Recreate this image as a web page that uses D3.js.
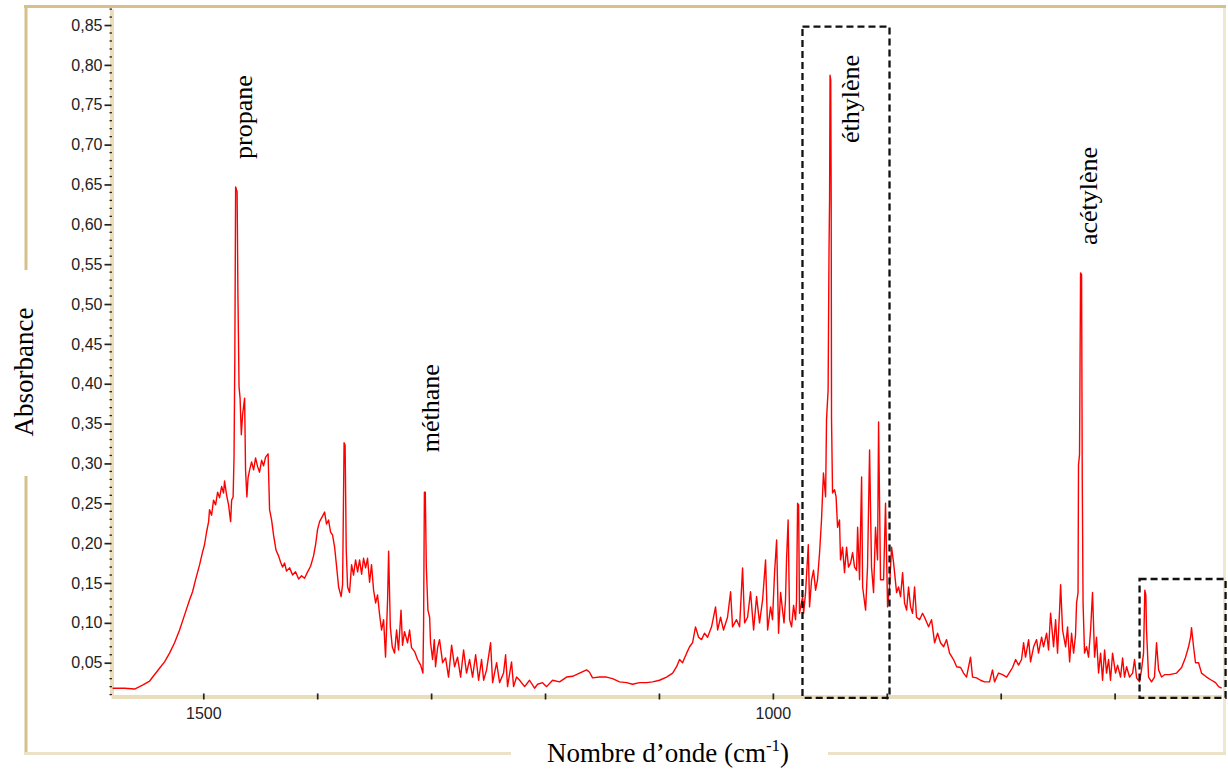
<!DOCTYPE html>
<html>
<head>
<meta charset="utf-8">
<script src="https://cdn.jsdelivr.net/npm/d3@7"></script>
<style>
  body { margin: 0; background: #fff; }
  svg { display: block; }
</style>
</head>
<body>
<svg id="chart" width="1228" height="769"></svg>
<script>
// spectre IR : [nombre d'onde (cm-1), absorbance]
const spectrum = [
  [1579.6,0.018],[1569.1,0.018],[1560.3,0.017],[1553.3,0.022],[1547.1,0.027],[1538.4,0.043],[1534.0,0.051],[1529.6,0.062],
  [1525.2,0.075],[1520.8,0.091],[1516.4,0.110],[1512.0,0.129],[1509.4,0.139],[1506.8,0.154],[1503.2,0.173],[1500.6,0.189],
  [1498.9,0.198],[1497.1,0.214],[1495.3,0.227],[1494.5,0.242],[1492.7,0.235],[1491.0,0.254],[1489.2,0.248],[1487.4,0.264],
  [1485.7,0.257],[1483.9,0.271],[1482.2,0.263],[1481.3,0.278],[1479.5,0.260],[1477.8,0.248],[1476.0,0.227],[1475.1,0.254],
  [1473.8,0.258],[1473.0,0.308],[1472.3,0.434],[1471.6,0.647],[1470.3,0.641],[1469.6,0.514],[1468.6,0.396],[1467.7,0.382],
  [1466.6,0.336],[1465.5,0.361],[1463.7,0.382],[1462.9,0.292],[1461.7,0.258],[1460.7,0.282],[1459.3,0.292],[1457.6,0.302],
  [1455.8,0.292],[1454.1,0.307],[1452.3,0.296],[1450.6,0.289],[1448.8,0.304],[1447.1,0.297],[1445.3,0.308],[1443.1,0.312],
  [1441.8,0.242],[1440.0,0.229],[1438.3,0.210],[1436.1,0.191],[1433.9,0.184],[1432.1,0.176],[1430.4,0.170],[1428.6,0.175],
  [1426.9,0.165],[1424.2,0.169],[1421.6,0.160],[1419.0,0.164],[1416.3,0.155],[1413.7,0.159],[1411.1,0.156],[1408.4,0.164],
  [1405.8,0.171],[1403.2,0.184],[1401.4,0.198],[1399.7,0.217],[1397.9,0.227],[1395.3,0.234],[1393.5,0.239],[1391.8,0.224],
  [1390.0,0.229],[1388.3,0.214],[1386.5,0.210],[1384.7,0.195],[1383.0,0.171],[1381.2,0.145],[1379.0,0.133],[1377.7,0.148],
  [1376.4,0.326],[1375.5,0.323],[1374.5,0.191],[1373.3,0.145],[1371.6,0.138],[1369.8,0.173],[1368.1,0.160],[1366.3,0.179],
  [1364.5,0.164],[1362.8,0.179],[1361.0,0.161],[1359.3,0.181],[1357.5,0.169],[1355.8,0.181],[1354.0,0.151],[1352.3,0.173],
  [1350.5,0.141],[1348.7,0.125],[1347.0,0.135],[1345.2,0.110],[1343.5,0.091],[1341.7,0.104],[1340.0,0.057],[1338.2,0.129],
  [1337.3,0.190],[1335.8,0.095],[1334.1,0.070],[1332.1,0.062],[1330.3,0.091],[1328.6,0.066],[1326.4,0.116],[1325.1,0.072],
  [1323.3,0.089],[1320.7,0.075],[1318.9,0.091],[1317.2,0.069],[1314.5,0.064],[1311.9,0.054],[1309.2,0.047],[1307.2,0.037],
  [1306.6,0.097],[1305.9,0.264],[1305.1,0.264],[1304.2,0.170],[1302.8,0.116],[1301.3,0.107],[1300.5,0.075],[1298.7,0.054],
  [1297.2,0.079],[1296.1,0.045],[1294.3,0.069],[1292.6,0.079],[1289.9,0.050],[1287.3,0.056],[1284.7,0.032],[1282.0,0.072],
  [1279.4,0.045],[1276.8,0.057],[1274.1,0.032],[1271.5,0.066],[1268.9,0.037],[1266.2,0.054],[1263.6,0.032],[1260.9,0.060],
  [1258.3,0.028],[1255.7,0.054],[1253.9,0.028],[1251.3,0.041],[1247.8,0.075],[1246.0,0.025],[1242.5,0.050],[1239.9,0.025],
  [1236.4,0.037],[1234.6,0.060],[1232.9,0.020],[1229.4,0.051],[1227.6,0.020],[1225.0,0.032],[1222.3,0.028],[1217.9,0.020],
  [1213.6,0.028],[1209.2,0.018],[1206.5,0.023],[1202.2,0.025],[1198.6,0.020],[1193.4,0.028],[1187.2,0.026],[1181.1,0.032],
  [1175.8,0.033],[1169.7,0.037],[1163.5,0.041],[1160.9,0.038],[1158.3,0.031],[1152.1,0.032],[1146.0,0.032],[1140.7,0.030],
  [1134.6,0.026],[1128.4,0.025],[1123.2,0.023],[1117.0,0.025],[1110.9,0.025],[1105.6,0.026],[1099.5,0.028],[1093.3,0.032],
  [1088.0,0.037],[1084.5,0.045],[1081.9,0.054],[1079.3,0.050],[1075.7,0.062],[1073.1,0.070],[1070.5,0.075],[1067.9,0.095],
  [1065.2,0.082],[1062.6,0.079],[1060.0,0.087],[1057.3,0.082],[1053.8,0.095],[1050.3,0.120],[1048.5,0.091],[1045.9,0.107],
  [1043.3,0.091],[1039.8,0.107],[1037.1,0.139],[1035.4,0.095],[1031.9,0.104],[1029.2,0.095],[1026.6,0.169],[1024.8,0.100],
  [1022.2,0.107],[1019.6,0.139],[1016.9,0.091],[1014.3,0.133],[1011.7,0.100],[1009.0,0.129],[1006.4,0.179],[1004.6,0.091],
  [1002.0,0.120],[1000.3,0.104],[998.5,0.163],[996.7,0.204],[995.0,0.087],[993.2,0.138],[991.5,0.116],[990.2,0.100],
  [988.9,0.129],[988.0,0.179],[986.6,0.229],[985.3,0.104],[983.6,0.095],[981.8,0.122],[980.1,0.104],[979.2,0.129],
  [978.3,0.250],[977.4,0.248],[976.6,0.112],[973.9,0.133],[973.0,0.112],[971.3,0.138],[968.9,0.198],[967.8,0.120],
  [966.0,0.154],[964.3,0.166],[962.5,0.141],[960.8,0.154],[959.0,0.188],[957.3,0.229],[955.6,0.288],[953.7,0.258],
  [952.9,0.355],[951.5,0.392],[950.7,0.568],[950.2,0.634],[949.8,0.787],[949.2,0.781],[948.8,0.631],[948.5,0.355],
  [947.6,0.263],[945.8,0.267],[944.5,0.258],[943.2,0.220],[941.5,0.229],[940.6,0.179],[938.8,0.195],[937.1,0.163],
  [935.3,0.195],[933.6,0.170],[931.8,0.175],[930.0,0.188],[928.3,0.170],[926.5,0.166],[925.6,0.220],[923.9,0.154],
  [922.1,0.283],[921.2,0.145],[918.6,0.116],[916.9,0.170],[915.1,0.317],[913.4,0.170],[911.6,0.138],[909.9,0.220],
  [908.1,0.179],[907.2,0.352],[905.5,0.154],[902.8,0.154],[901.1,0.250],[899.3,0.120],[897.6,0.145],[895.8,0.195],
  [894.0,0.175],[891.4,0.138],[889.7,0.145],[887.9,0.133],[886.1,0.163],[884.4,0.125],[882.6,0.116],[880.9,0.145],
  [879.1,0.120],[877.4,0.112],[875.6,0.145],[873.9,0.107],[871.2,0.104],[868.6,0.112],[865.9,0.104],[863.3,0.095],
  [860.7,0.104],[858.0,0.075],[855.4,0.087],[852.8,0.075],[850.1,0.070],[847.5,0.079],[844.9,0.062],[841.4,0.054],
  [838.7,0.045],[835.2,0.044],[832.6,0.037],[830.0,0.032],[826.5,0.057],[824.7,0.032],[821.2,0.031],[817.7,0.028],
  [814.2,0.026],[809.8,0.026],[807.2,0.041],[805.4,0.026],[801.9,0.037],[798.4,0.035],[794.8,0.032],[792.2,0.038],
  [789.6,0.044],[786.9,0.054],[784.3,0.047],[781.7,0.054],[779.9,0.075],[778.2,0.057],[775.5,0.079],[773.8,0.051],
  [771.1,0.070],[768.5,0.079],[766.8,0.062],[764.1,0.082],[762.4,0.070],[759.7,0.087],[758.0,0.066],[756.2,0.112],
  [753.6,0.070],[751.8,0.104],[750.1,0.062],[748.3,0.116],[747.4,0.148],[745.7,0.091],[743.0,0.070],[741.3,0.095],
  [739.5,0.051],[737.8,0.087],[736.0,0.062],[734.3,0.085],[733.4,0.125],[732.1,0.138],[731.7,0.298],[730.8,0.311],
  [729.9,0.539],[729.0,0.537],[728.4,0.279],[727.7,0.125],[726.4,0.062],[724.6,0.070],[722.9,0.057],[721.1,0.091],
  [719.4,0.138],[717.6,0.057],[715.9,0.082],[714.1,0.037],[712.3,0.062],[710.6,0.028],[708.8,0.066],[707.1,0.037],
  [705.3,0.054],[703.6,0.028],[701.8,0.062],[699.2,0.037],[697.4,0.047],[694.8,0.032],[693.0,0.056],[691.3,0.032],
  [689.5,0.045],[686.9,0.032],[684.2,0.037],[682.5,0.054],[680.7,0.031],[678.1,0.026],[676.4,0.041],[674.6,0.062],
  [673.5,0.141],[672.6,0.135],[672.0,0.091],[670.2,0.032],[667.6,0.026],[665.0,0.032],[663.2,0.075],[661.4,0.041],
  [658.8,0.032],[656.2,0.035],[651.8,0.035],[645.6,0.037],[641.2,0.044],[637.7,0.057],[635.1,0.070],[633.3,0.082],
  [632.5,0.094],[630.7,0.070],[629.0,0.050],[626.3,0.050],[623.7,0.037],[619.3,0.032],[614.9,0.028],[611.4,0.025],
  [608.7,0.020],[606.0,0.018]
];

const yTicks = [0.05, 0.10, 0.15, 0.20, 0.25, 0.30, 0.35, 0.40, 0.45, 0.50, 0.55, 0.60, 0.65, 0.70, 0.75, 0.80, 0.85];
const xTicks = [1500, 1400, 1300, 1200, 1100, 1000, 900, 800, 700];
const xLabelled = [1500, 1000];

// noms des gaz, placés en coordonnées du graphe (début du texte vertical)
const gasNames = ["propane", "méthane", "éthylène", "acétylène"];
const gasWn = [1457.6, 1293.4, 924.8, 715.8];
const gasA = [0.682, 0.314, 0.702, 0.574];

// zones encadrées [nombre d'onde gauche, droite, absorbance haute, basse]
const boxes = [
  [974.0, 897.6, 0.848, 0.006],
  [678.1, 602.6, 0.155, 0.006]
];

const svg = d3.select("#chart");
const serif = "'Liberation Serif', 'Times New Roman', serif";
const sans = "'Liberation Sans', Arial, sans-serif";

const x = d3.scaleLinear().domain([1581, 606]).range([111, 1221.7]);
const y = d3.scaleLinear().domain([0.01, 0.87]).range([694.6, 9.1]);

// cadre extérieur
const frame = svg.append("g").attr("fill", "none").attr("stroke-width", 3);
frame.append("line").attr("x1", 24).attr("x2", 1226).attr("y1", 6.5).attr("y2", 6.5).attr("stroke", "#d6c18a");
frame.append("line").attr("x1", 26).attr("x2", 26).attr("y1", 5).attr("y2", 270).attr("stroke", "#d6c18a");
frame.append("line").attr("x1", 26).attr("x2", 26).attr("y1", 476).attr("y2", 755).attr("stroke", "#d6c18a");
frame.append("line").attr("x1", 1224.5).attr("x2", 1224.5).attr("y1", 8).attr("y2", 755).attr("stroke", "#efe7d0");
frame.append("line").attr("x1", 25).attr("x2", 511).attr("y1", 753.5).attr("y2", 753.5).attr("stroke", "#ebe2c7");
frame.append("line").attr("x1", 828).attr("x2", 1226).attr("y1", 753.5).attr("y2", 753.5).attr("stroke", "#ebe2c7");

// axe Y
const gy = svg.append("g")
  .attr("transform", "translate(111.5,0)")
  .call(d3.axisLeft(y).tickValues(yTicks).tickSize(7).tickSizeOuter(0).tickPadding(2)
    .tickFormat(d => d.toFixed(2).replace(".", ",")));
gy.select(".domain").attr("stroke", "#e9ddbb").attr("stroke-width", 4);
gy.selectAll(".tick line").attr("stroke", "#222").attr("stroke-width", 1.7);
gy.selectAll(".tick text").attr("fill", "#222").style("font-family", sans).style("font-size", "16px");

// petites graduations
svg.append("g").selectAll("line")
  .data(d3.range(1, 88).map(i => i / 100).filter(v => Math.round(v * 100) % 5 !== 0))
  .join("line")
  .attr("x1", 109.5).attr("x2", 112)
  .attr("y1", d => y(d)).attr("y2", d => y(d))
  .attr("stroke", "#222").attr("stroke-width", 1.3);

// axe X
const gx = svg.append("g")
  .attr("transform", "translate(0,696.5)")
  .call(d3.axisBottom(x).tickValues(xTicks).tickSize(3).tickSizeOuter(0).tickPadding(8)
    .tickFormat(d => xLabelled.includes(d) ? d : ""));
gx.select(".domain").attr("stroke", "#e9ddbb").attr("stroke-width", 4);
gx.selectAll(".tick line").attr("y1", -3).attr("stroke", "#222").attr("stroke-width", 1.7);
gx.selectAll(".tick text").attr("fill", "#222").style("font-family", sans).style("font-size", "16px");

// spectre
svg.append("path")
  .datum(spectrum)
  .attr("fill", "none")
  .attr("stroke", "#ff0000")
  .attr("stroke-width", 1.4)
  .attr("stroke-linejoin", "round")
  .attr("d", d3.line().x(d => x(d[0])).y(d => y(d[1])));

// cadres pointillés
svg.append("g").selectAll("rect")
  .data(boxes)
  .join("rect")
  .attr("x", d => x(d[0]))
  .attr("y", d => y(d[2]))
  .attr("width", d => x(d[1]) - x(d[0]))
  .attr("height", d => y(d[3]) - y(d[2]))
  .attr("fill", "none")
  .attr("stroke", "#111")
  .attr("stroke-width", 2.3)
  .attr("stroke-dasharray", "7,4");

// noms des gaz
svg.append("g").selectAll("text")
  .data(gasNames)
  .join("text")
  .attr("transform", (d, i) => `translate(${x(gasWn[i])},${y(gasA[i])}) rotate(-90)`)
  .style("font-family", serif)
  .style("font-size", "26px")
  .attr("fill", "#000")
  .text(d => d);

// titres des axes
svg.append("text")
  .attr("transform", "translate(33,372) rotate(-90)")
  .attr("text-anchor", "middle")
  .style("font-family", serif)
  .style("font-size", "27px")
  .text("Absorbance");

const xt = svg.append("text")
  .attr("x", 547).attr("y", 762)
  .style("font-family", serif)
  .style("font-size", "27px");
xt.append("tspan").text("Nombre d’onde (cm");
xt.append("tspan").attr("dy", -11).style("font-size", "17px").text("-1");
xt.append("tspan").attr("dy", 11).text(")");
</script>
</body>
</html>
